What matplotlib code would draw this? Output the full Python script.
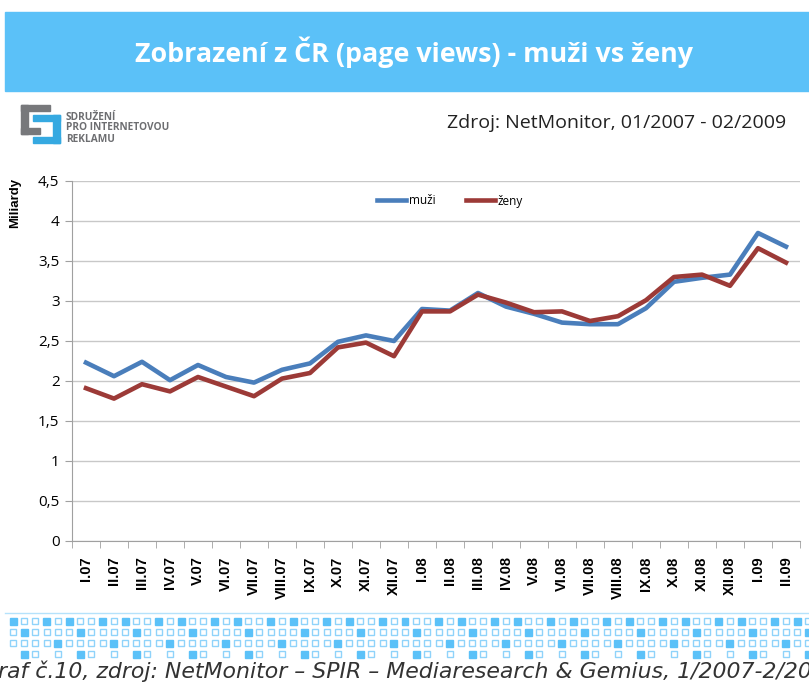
import matplotlib.pyplot as plt
from matplotlib.patches import Rectangle
from matplotlib.ticker import FuncFormatter, MultipleLocator

# data (billions of page views)
months = ['I.07', 'II.07', 'III.07', 'IV.07', 'V.07', 'VI.07', 'VII.07', 'VIII.07',
          'IX.07', 'X.07', 'XI.07', 'XII.07', 'I.08', 'II.08', 'III.08', 'IV.08',
          'V.08', 'VI.08', 'VII.08', 'VIII.08', 'IX.08', 'X.08', 'XI.08', 'XII.08',
          'I.09', 'II.09']
muzi = [2.23, 2.06, 2.24, 2.01, 2.20, 2.05, 1.98, 2.14, 2.22, 2.49, 2.57, 2.50, 2.90,
        2.88, 3.10, 2.93, 2.84, 2.73, 2.71, 2.71, 2.91, 3.24, 3.29, 3.33, 3.85, 3.68]
zeny = [1.91, 1.78, 1.96, 1.87, 2.05, 1.93, 1.81, 2.03, 2.10, 2.42, 2.48, 2.31, 2.87,
        2.87, 3.08, 2.98, 2.86, 2.87, 2.75, 2.81, 3.01, 3.30, 3.33, 3.19, 3.66, 3.48]

W, H = 809, 684
fig = plt.figure(figsize=(W / 100, H / 100), dpi=100)

def fx(px):
    return px / W

def fy(py):
    return 1 - py / H

# title banner
fig.patches.append(Rectangle((fx(5), fy(91)), fx(810) - fx(5), fy(12) - fy(91),
                             transform=fig.transFigure, color='#5bc1f8', zorder=0))
fig.text(fx(414), fy(52), 'Zobrazení z ČR (page views) - muži vs ženy', color='white',
         fontsize=19.4, fontweight='bold', family='Open Sans', ha='center', va='center')

# logo (rough shapes)
gray, blue = '#77787b', '#35a9e1'
for x0, y0, x1, y1, c in [(21, 105, 50, 111, gray), (21, 105, 28, 134, gray),
                          (21, 128, 40, 134, gray),
                          (33, 115, 60, 121, blue), (53, 115, 60, 143, blue),
                          (33, 137, 60, 143, blue)]:
    fig.patches.append(Rectangle((fx(x0), fy(y1)), fx(x1) - fx(x0), fy(y0) - fy(y1),
                                 transform=fig.transFigure, color=c, zorder=1))
for i, t in enumerate(['SDRUŽENÍ', 'PRO INTERNETOVOU', 'REKLAMU']):
    fig.text(fx(66), fy(117 + i * 11), t, color='#6d6e71', fontsize=7.3,
             fontweight='bold', family='Open Sans', va='center')

fig.text(fx(786), fy(123), 'Zdroj: NetMonitor, 01/2007 - 02/2009', fontsize=14,
         family='Open Sans', ha='right', va='center', color='#222222')

# chart
ax = fig.add_axes([fx(72), fy(541), fx(800) - fx(72), fy(181) - fy(541)])
x = list(range(len(months)))
ax.plot(x, muzi, color='#4a7ebb', lw=3.3, label='muži', solid_joinstyle='round')
ax.plot(x, zeny, color='#9c3a37', lw=3.3, label='ženy', solid_joinstyle='round')

ax.set_xlim(-0.5, len(months) - 0.5)
ax.set_ylim(0, 4.5)
ax.yaxis.set_major_locator(MultipleLocator(0.5))
ax.yaxis.set_major_formatter(FuncFormatter(lambda v, p: ('%g' % v).replace('.', ',')))
ax.set_xticks(x)
ax.set_xticklabels(months, rotation=90, fontsize=10.5, fontweight='bold',
                   family='Liberation Sans')
ax.tick_params(axis='x', length=0, pad=11)
ax.set_xticks([i - 0.5 for i in range(len(months) + 1)], minor=True)
ax.tick_params(axis='x', which='minor', length=5, color='#a0a0a0')
ax.tick_params(axis='y', length=5, color='#a0a0a0', labelsize=11, pad=4)
for lab in ax.get_yticklabels():
    lab.set_family('Open Sans')
ax.grid(axis='y', color='#c8c8c8', lw=1)
ax.set_axisbelow(True)
for s in ['top', 'right']:
    ax.spines[s].set_visible(False)
for s in ['left', 'bottom']:
    ax.spines[s].set_color('#a0a0a0')

fig.text(fx(15), fy(203), 'Miliardy', rotation=90, fontsize=9.5, fontweight='bold',
         family='Liberation Sans', ha='center', va='center')

ax.legend(loc='center', bbox_to_anchor=(fx(450), fy(201)), bbox_transform=fig.transFigure,
          ncol=2, frameon=False, handlelength=2.5, handletextpad=0.2,
          columnspacing=2.6, prop={'family': 'Open Sans', 'size': 8.5})

# decorative squares at the bottom
fig.lines.append(plt.Line2D([fx(5), 1], [fy(613), fy(613)], transform=fig.transFigure,
                            color='#b5e2fb', lw=1))
sq = 7
rows = [{0: 1, 1: 0, 2: 0, 3: 1, 4: 0},
        {0: 0, 1: 1, 2: 0, 3: 0, 4: 0},
        {0: 0, 1: 0, 2: 0, 3: 0, 4: 1},
        {1: 1, 2: 0, 4: 0}]
for r, pat in enumerate(rows):
    yc = 621 + r * 11
    for k in range(72):
        state = pat.get(k % 5)
        if state is None:
            continue
        xc = 13 + k * 11.2
        if state:
            fig.patches.append(Rectangle((fx(xc - sq / 2), fy(yc + sq / 2)), fx(sq), sq / H,
                                         transform=fig.transFigure, color='#5bc1f8'))
        else:
            fig.patches.append(Rectangle((fx(xc - sq / 2 + 0.5), fy(yc + sq / 2 - 0.5)),
                                         fx(sq - 1), (sq - 1) / H, transform=fig.transFigure,
                                         facecolor='white', edgecolor='#8fd3fa', lw=1))

# caption runs past both edges, as in the source screenshot
fig.text(fx(410), fy(671), 'Graf č.10, zdroj: NetMonitor – SPIR – Mediaresearch & Gemius, 1/2007-2/2009',
         fontsize=15.8, style='italic', family='DejaVu Sans', ha='center', va='center',
         color='#333333')

fig.savefig('out.png', dpi=100)
